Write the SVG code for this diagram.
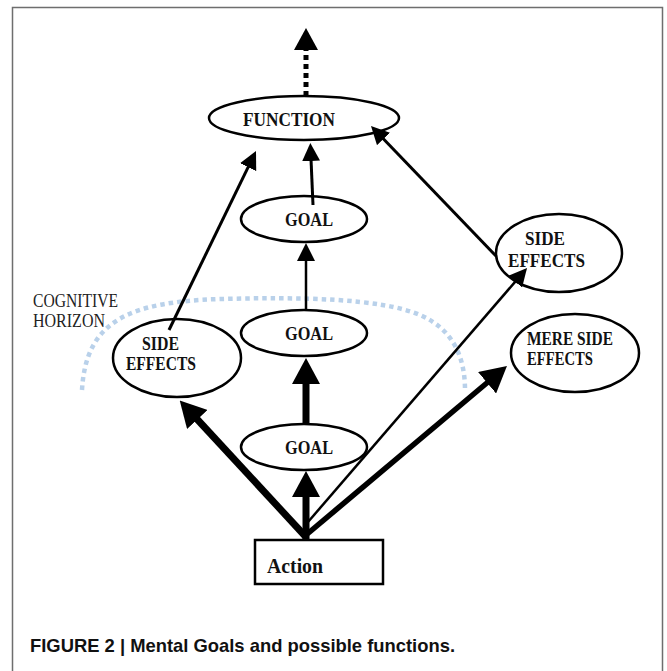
<svg xmlns="http://www.w3.org/2000/svg" width="667" height="671" viewBox="0 0 667 671">
<style>
.node ellipse, .node rect { fill: #fff; stroke: #000; stroke-width: 2.5; }
.lbl { font-family: "Liberation Serif", "Times New Roman", serif; font-weight: bold; font-size: 18px; fill: #111; }
.plain { font-family: "Liberation Serif", "Times New Roman", serif; font-size: 18px; fill: #222; }
.cap { font-family: "Liberation Sans", Arial, sans-serif; font-weight: bold; font-size: 19px; fill: #111; }
.edge { stroke: #000; fill: none; }
</style>
<defs>
<marker id="big" viewBox="0 0 26 28" markerWidth="26" markerHeight="28" refX="2" refY="14" orient="auto" markerUnits="userSpaceOnUse"><path d="M0,0 L26,14 L0,28 Z" fill="#000"/></marker>
<marker id="med" viewBox="0 0 18 18" markerWidth="18" markerHeight="18" refX="2" refY="9" orient="auto" markerUnits="userSpaceOnUse"><path d="M0,0 L18,9 L0,18 Z" fill="#000"/></marker>
<marker id="top" viewBox="0 0 22 24" markerWidth="22" markerHeight="24" refX="1" refY="12" orient="auto" markerUnits="userSpaceOnUse"><path d="M0,0 L22,12 L0,24 Z" fill="#000"/></marker>
</defs>
<rect width="667" height="671" fill="#fff"/>
<path d="M12.5,671 V7.5 H662.5 V671" fill="none" stroke="#6e6e6e" stroke-width="1.5"/>

<g id="horizon">
<path d="M82,390 C86,320 130,302 220,299 C300,297 380,298 420,315 C455,330 465,360 465,390" fill="none" stroke="#b9d1ea" stroke-width="4.5" stroke-dasharray="4.5 4"/>
<text class="plain" x="33" y="307" textLength="85" lengthAdjust="spacingAndGlyphs">COGNITIVE</text>
<text class="plain" x="33" y="327" textLength="72" lengthAdjust="spacingAndGlyphs">HORIZON</text>
</g>

<g id="function" class="node">
<ellipse cx="304" cy="118" rx="95" ry="22"/>
<text class="lbl" x="243" y="126" style="font-size:19.5px" textLength="92" lengthAdjust="spacingAndGlyphs">FUNCTION</text>
</g>
<g id="goal-top" class="node">
<ellipse cx="304" cy="219" rx="63" ry="23"/>
<text class="lbl" x="285" y="226" style="font-size:19px" textLength="48" lengthAdjust="spacingAndGlyphs">GOAL</text>
</g>
<g id="goal-mid" class="node">
<ellipse cx="304" cy="333" rx="63" ry="23"/>
<text class="lbl" x="285" y="340" style="font-size:19px" textLength="48" lengthAdjust="spacingAndGlyphs">GOAL</text>
</g>
<g id="goal-bottom" class="node">
<ellipse cx="304" cy="447" rx="63" ry="23"/>
<text class="lbl" x="285" y="454" style="font-size:19px" textLength="48" lengthAdjust="spacingAndGlyphs">GOAL</text>
</g>
<g id="side-effects-left" class="node">
<ellipse cx="177" cy="358" rx="64" ry="39"/>
<text class="lbl" x="142" y="350" textLength="37" lengthAdjust="spacingAndGlyphs">SIDE</text>
<text class="lbl" x="126" y="370" textLength="70" lengthAdjust="spacingAndGlyphs">EFFECTS</text>
</g>
<g id="side-effects-right" class="node">
<ellipse cx="559" cy="253" rx="63" ry="39"/>
<text class="lbl" x="525" y="245" textLength="40" lengthAdjust="spacingAndGlyphs">SIDE</text>
<text class="lbl" x="508" y="267" textLength="77" lengthAdjust="spacingAndGlyphs">EFFECTS</text>
</g>
<g id="mere-side-effects" class="node">
<ellipse cx="575" cy="353" rx="64" ry="39"/>
<text class="lbl" x="527" y="345" textLength="86" lengthAdjust="spacingAndGlyphs">MERE SIDE</text>
<text class="lbl" x="527" y="365" textLength="66" lengthAdjust="spacingAndGlyphs">EFFECTS</text>
</g>
<g id="action" class="node">
<rect x="255" y="540" width="128" height="44"/>
<text class="lbl" x="267" y="573" style="font-size:21px" textLength="56" lengthAdjust="spacingAndGlyphs">Action</text>
</g>

<g id="connectors">
<line class="edge" x1="306" y1="96" x2="306" y2="49" stroke-width="5" stroke-dasharray="5 4" marker-end="url(#top)"/>
<line class="edge" x1="313" y1="205" x2="311" y2="159" stroke-width="3" marker-end="url(#med)"/>
<line class="edge" x1="306" y1="310" x2="306" y2="259" stroke-width="2.5" marker-end="url(#med)"/>
<line class="edge" x1="306" y1="424" x2="306" y2="382" stroke-width="7" marker-end="url(#big)"/>
<line class="edge" x1="306" y1="540" x2="306" y2="495" stroke-width="7" marker-end="url(#big)"/>
<line class="edge" x1="306" y1="537" x2="196" y2="418" stroke-width="7" marker-end="url(#big)"/>
<line class="edge" x1="306" y1="535" x2="488.6" y2="381.5" stroke-width="5.5" marker-end="url(#big)"/>
<line class="edge" x1="308" y1="522" x2="516.6" y2="280.1" stroke-width="2.5" marker-end="url(#med)"/>
<line class="edge" x1="169" y1="330" x2="249" y2="165.4" stroke-width="3" marker-end="url(#med)"/>
<line class="edge" x1="496" y1="256" x2="382.1" y2="137.5" stroke-width="3" marker-end="url(#med)"/>
</g>

<text class="cap" x="30" y="652" textLength="425" lengthAdjust="spacingAndGlyphs">FIGURE 2 | Mental Goals and possible functions.</text>
</svg>
